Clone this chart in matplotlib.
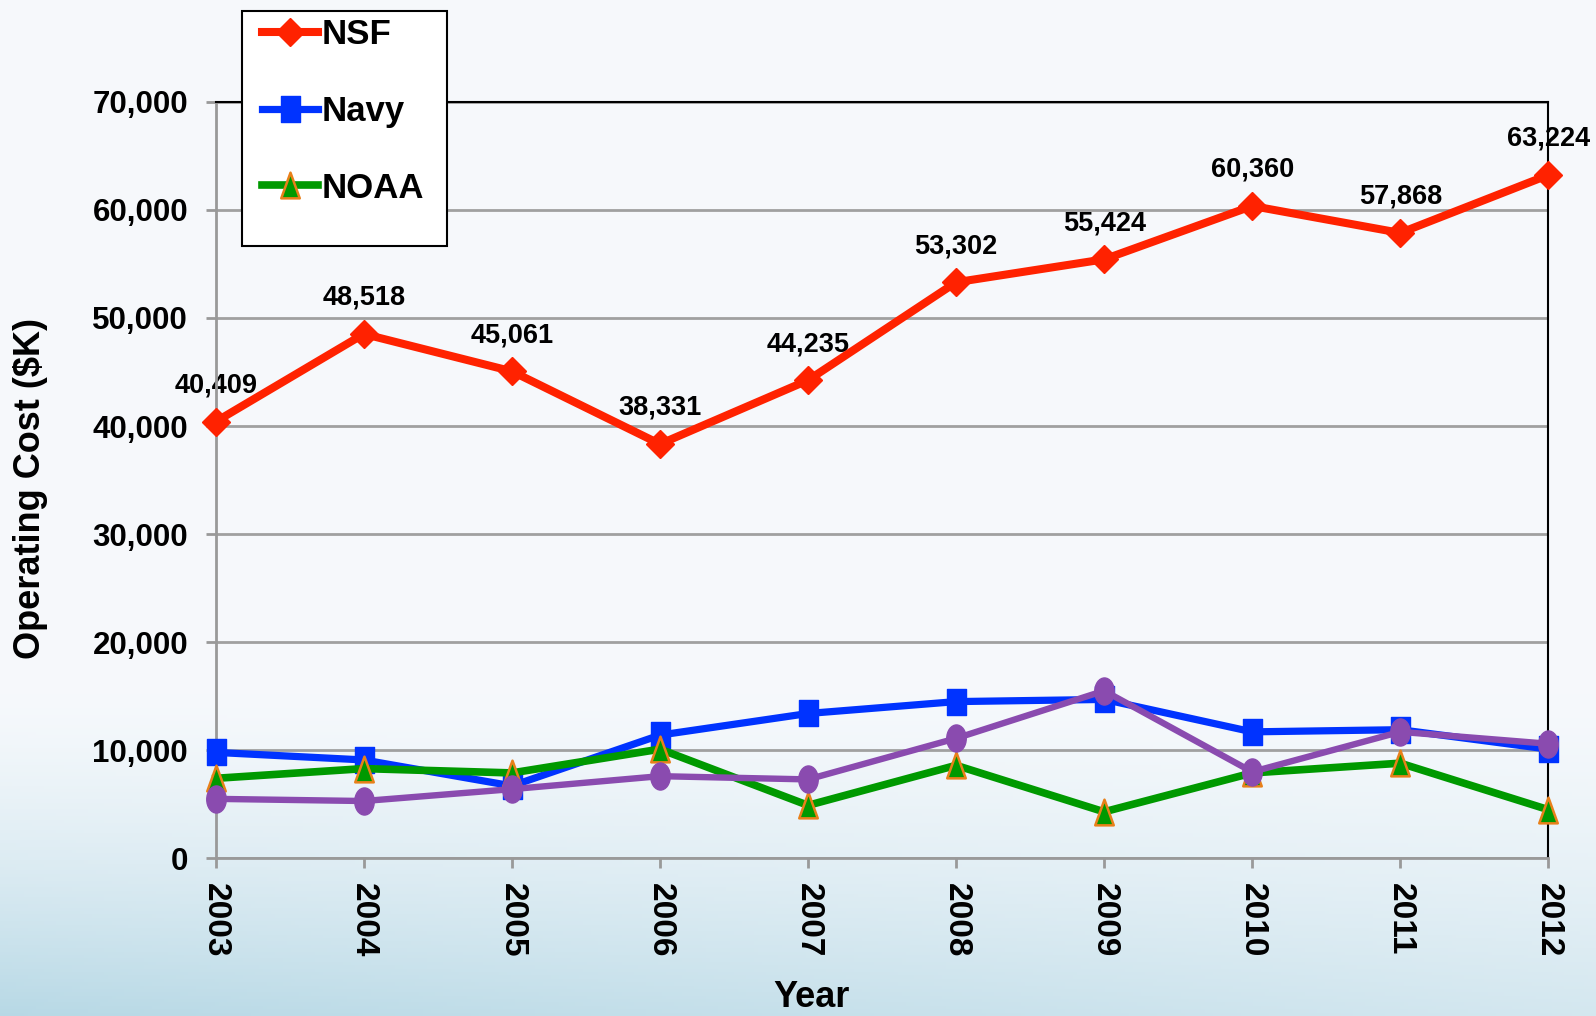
import numpy as np
import matplotlib
matplotlib.use('Agg')
import matplotlib.pyplot as plt
from matplotlib.path import Path
from matplotlib.transforms import Affine2D
from matplotlib.patches import Rectangle
from matplotlib.ticker import FuncFormatter

# ---------------- data ----------------
years = ['2003', '2004', '2005', '2006', '2007', '2008', '2009', '2010', '2011', '2012']
nsf_cost = [40409, 48518, 45061, 38331, 44235, 53302, 55424, 60360, 57868, 63224]
navy_cost = [9800, 9100, 6700, 11400, 13400, 14500, 14700, 11700, 11900, 10100]
noaa_cost = [7400, 8300, 7900, 10100, 4900, 8600, 4300, 7900, 8800, 4500]
other_cost = [5500, 5300, 6400, 7600, 7300, 11100, 15500, 8000, 11700, 10600]
legend_labels = ['NSF', 'Navy', 'NOAA']
y_ticks = [0, 10000, 20000, 30000, 40000, 50000, 60000, 70000]

plt.rcParams['font.family'] = ['Liberation Sans', 'DejaVu Sans']
plt.rcParams['font.weight'] = 'bold'

W, H = 1596, 1016
fig = plt.figure(figsize=(W / 100, H / 100), dpi=100)

# ---------------- background gradient ----------------
bg = fig.add_axes([0, 0, 1, 1], zorder=-10)
yy, xx = np.mgrid[0:1:300j, 0:1:400j]
tv = np.clip((yy - 0.68) / 0.32, 0, 1) ** 1.4
strength = tv * (1 - 0.45 * xx)
top_c = np.array([0.965, 0.976, 0.988])
bot_c = np.array([0.72, 0.85, 0.90])
img = top_c[None, None, :] * (1 - strength[..., None]) + bot_c[None, None, :] * strength[..., None]
bg.imshow(img, aspect='auto', extent=[0, 1, 0, 1], origin='upper')
bg.axis('off')

# ---------------- main axes ----------------
left, right, top, bottom = 215.8, 1548.3, 101.8, 858.3
ax = fig.add_axes([left / W, 1 - bottom / H, (right - left) / W, (bottom - top) / H])
ax.patch.set_visible(False)


def stretched(verts, sy):
    v = np.asarray(verts, dtype=float)
    v = Affine2D().scale(1, sy).transform(v)
    codes = [Path.MOVETO] + [Path.LINETO] * (len(v) - 2) + [Path.CLOSEPOLY]
    return Path(v, codes)


circ = Path.unit_circle()
ellipse_marker = Path(Affine2D().scale(0.72, 1.0).transform(circ.vertices), circ.codes)
rect_marker = stretched([(-0.36, -0.5), (0.36, -0.5), (0.36, 0.5), (-0.36, 0.5), (-0.36, -0.5)], 1.0)
tri_marker = stretched([(0, 1), (-0.72, -1), (0.72, -1), (0, 1)], 1.0)

x = np.arange(len(years))
red, blue, green, orange, purple = '#FF2200', '#0033FF', '#009900', '#E8801A', '#8A4BAF'

l_nsf, = ax.plot(x, nsf_cost, color=red, lw=5.8, marker='D', ms=14, mfc=red, mec=red,
                 clip_on=False, zorder=3)
l_navy, = ax.plot(x, navy_cost, color=blue, lw=5.2, marker=rect_marker, ms=19, mfc=blue, mec=blue,
                  clip_on=False, zorder=4)
l_noaa, = ax.plot(x, noaa_cost, color=green, lw=5.5, marker=tri_marker, ms=18.5, mfc=green, mec=orange,
                  mew=1.8, clip_on=False, zorder=5)
l_other, = ax.plot(x, other_cost, color=purple, lw=4.6, marker=ellipse_marker, ms=19.5, mfc=purple,
                   mec=purple, clip_on=False, zorder=6)

for xi, v in zip(x, nsf_cost):
    ax.annotate(f'{v:,}', (xi, v), xytext=(0, 26), textcoords='offset points',
                ha='center', va='center', fontsize=19.5, fontweight='bold', zorder=2,
                annotation_clip=False)

ax.set_xlim(0, len(years) - 1)
ax.set_ylim(0, 70000)
ax.set_yticks(y_ticks)
ax.yaxis.set_major_formatter(FuncFormatter(lambda v, p: f'{v:,.0f}'))
ax.set_xticks(x)
ax.set_xticklabels(years, rotation=270, fontsize=24, fontweight='bold')
for lab in ax.get_yticklabels():
    lab.set_fontsize(22.5)
    lab.set_fontweight('bold')

ax.yaxis.grid(True, color='#A0A0A0', lw=2)
ax.set_axisbelow(True)
for s in ['left', 'bottom']:
    ax.spines[s].set_color('#999999')
    ax.spines[s].set_linewidth(2)
for s in ['top', 'right']:
    ax.spines[s].set_color('black')
    ax.spines[s].set_linewidth(1.5)
ax.tick_params(axis='both', color='#999999', width=2, length=7, direction='out')
ax.tick_params(axis='x', pad=11)
ax.tick_params(axis='y', pad=13)

fig.text(812 / W, 1 - 997.6 / H, 'Year', ha='center', va='center', fontsize=26, fontweight='bold')
fig.text(30.5 / W, 1 - 488.6 / H, 'Operating Cost ($K)', rotation=90, ha='center', va='center',
         fontsize=26, fontweight='bold')

# ---------------- legend ----------------
box = Rectangle((241.7 / W, 1 - 246 / H), (446.7 - 241.7) / W, (246 - 11) / H,
                transform=fig.transFigure, facecolor='white', edgecolor='black', lw=1.5, zorder=4)
fig.add_artist(box)
leg = fig.legend([l_nsf, l_navy, l_noaa], legend_labels, loc='upper left',
                 bbox_to_anchor=(261.7 / W, 1 - 18 / H), frameon=False,
                 handlelength=1.63, handletextpad=0.1, labelspacing=1.26, borderpad=0,
                 borderaxespad=0, prop={'weight': 'bold', 'size': 25})
leg.set_zorder(5)

fig.savefig('out.png', dpi=100)
